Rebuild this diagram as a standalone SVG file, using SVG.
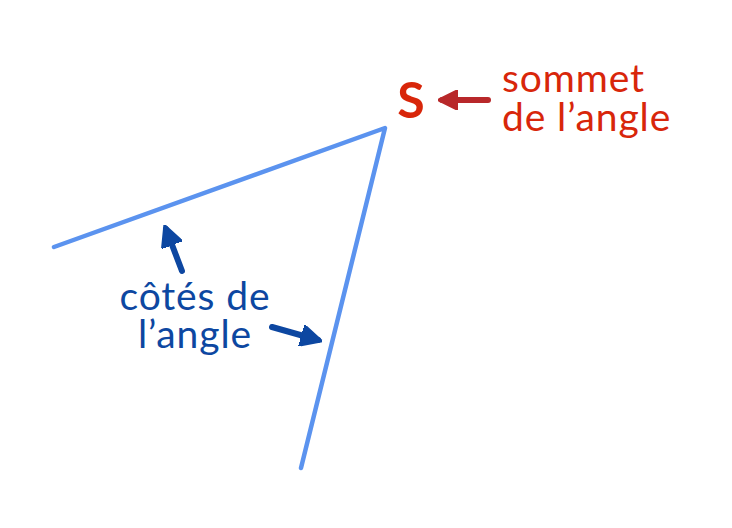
<svg xmlns="http://www.w3.org/2000/svg" width="732" height="528" viewBox="0 0 732 528">
<style>
.side{fill:none;stroke:#5B93EF;stroke-width:4.5;stroke-linecap:round;stroke-linejoin:round}
.red{fill:#D8260A;font-family:Lato,"Liberation Sans",sans-serif}
.lbl{font-size:39px;letter-spacing:0.9px}
.blue{fill:#0D47A1;font-family:Lato,"Liberation Sans",sans-serif;font-size:39px;letter-spacing:0.9px}
.arr{fill:none;stroke-width:6;stroke-linecap:round}
</style>
<defs>
<marker id="ab" viewBox="0 0 10 10" refX="8" refY="5" markerWidth="3.6" markerHeight="3.6" orient="auto" markerUnits="strokeWidth">
<path d="M0,0 L10,5 L0,10 z" fill="#0D47A1" stroke="#0D47A1" stroke-width="1" stroke-linejoin="round"/>
</marker>
<marker id="ar" viewBox="0 0 10 10" refX="8" refY="5" markerWidth="3.4" markerHeight="3.4" orient="auto" markerUnits="strokeWidth">
<path d="M0,0 L10,5 L0,10 z" fill="#B8282A" stroke="#B8282A" stroke-width="1" stroke-linejoin="round"/>
</marker>
</defs>
<g id="angle">
<polyline class="side" points="54,247 385,128 301,468"/>
</g>
<g id="sommet">
<text class="red" x="411" y="118" font-size="50" font-weight="bold" text-anchor="middle">S</text>
</g>
<g id="label-sommet">
<text class="red lbl" x="502" y="92">sommet</text>
<text class="red lbl" x="502" y="131">de l’angle</text>
</g>
<g id="label-cotes">
<text class="blue" x="195" y="310" text-anchor="middle">côtés de</text>
<text class="blue" x="195" y="348" text-anchor="middle">l’angle</text>
</g>
<g id="connectors">
<line class="arr" x1="488" y1="100" x2="442" y2="100" stroke="#B8282A" marker-end="url(#ar)"/>
<line class="arr" x1="182" y1="271" x2="166" y2="229" stroke="#0D47A1" marker-end="url(#ab)"/>
<line class="arr" x1="272" y1="327" x2="318" y2="340" stroke="#0D47A1" marker-end="url(#ab)"/>
</g>
</svg>
